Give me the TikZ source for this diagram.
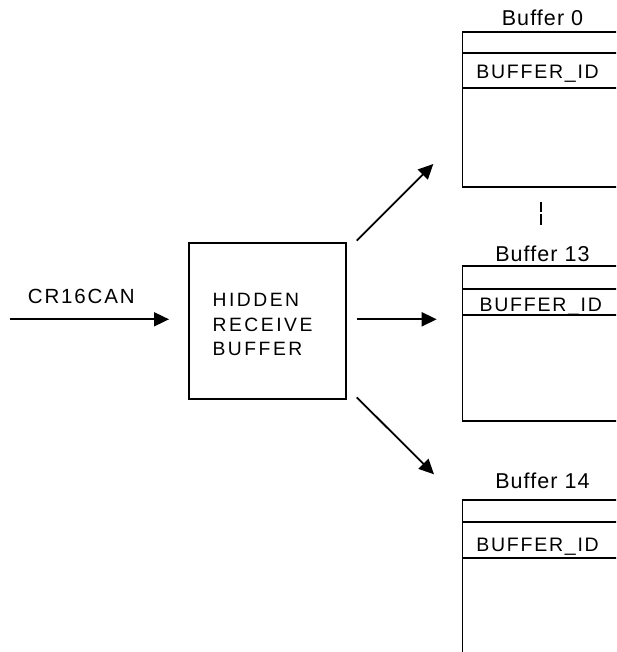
\documentclass[tikz,border=0pt]{standalone}
\usepackage{fontspec}
\setmainfont{Liberation Sans}
\newfontfamily\lblfont[LetterSpace=9]{Liberation Sans}
\newfontfamily\boxfont[LetterSpace=13]{Liberation Sans}
\newfontfamily\ttlfont[LetterSpace=5]{Liberation Sans}
\usetikzlibrary{arrows.meta}
\begin{document}
\begin{tikzpicture}[x=1pt,y=-1pt,
  line width=1.8pt,
  lbl/.style={inner sep=0pt,font=\fontsize{19.5}{24}\lblfont},
  inlbl/.style={inner sep=0pt,font=\fontsize{20.5}{24}\lblfont},
  boxtxt/.style={inner sep=0pt,font=\fontsize{19.3}{24.5}\boxfont},
  ttl/.style={inner sep=0pt,anchor=base,font=\fontsize{21.5}{24}\ttlfont},
  arr/.style={-{Triangle[length=15pt,width=14pt]}},
  hbox/.style={draw,minimum width=156.7pt,minimum height=156pt,inner sep=0pt,anchor=north west}]
\useasboundingbox (0,0) rectangle (616,652);
\clip (0,0) rectangle (616,652);

% hidden receive buffer
\node[hbox] (hrb) at (188.3,241.7) {};
\node[boxtxt,anchor=base west,align=left] (hrbtext) at (211.7,355.7) {HIDDEN\\RECEIVE\\BUFFER};

% input
\node[inlbl,anchor=base west] (can) at (27,303) {CR16CAN};
\coordinate (in) at (10,319.3);
\coordinate (inend) at (169,319.3);
\draw[arr] (in) -- (inend);

% buffer 0
\node[ttl] (t0) at (542.5,25.7) {Buffer 0};
\draw (630,32.3) -- (462.5,32.3) -- (462.5,187.3) -- (630,187.3);
\draw (462.5,53.3) -- (630,53.3);
\draw (462.5,87.7) -- (630,87.7);
\node[lbl,anchor=base west] (id0) at (475.5,78.5) {BUFFER\_ID};

% dots
\coordinate (d1) at (540.7,201.7);
\coordinate (d2) at (540.7,212.3);
\coordinate (d3) at (540.7,214.3);
\coordinate (d4) at (540.7,225);
\draw[line width=1.6pt] (d1) -- (d2) (d3) -- (d4);

% buffer 13
\node[ttl] (t13) at (542.5,261) {Buffer 13};
\draw (630,266) -- (462.5,266) -- (462.5,421.3) -- (630,421.3);
\draw (462.5,289) -- (630,289);
\draw (462.5,315) -- (630,315);
\node[lbl,anchor=base west] (id13) at (478.7,311.7) {BUFFER\_ID};

% buffer 14
\node[ttl] (t14) at (542.5,488.3) {Buffer 14};
\draw (630,500) -- (462.5,500) -- (462.5,660);
\draw (462.5,521.7) -- (630,521.7);
\draw (462.5,557.7) -- (630,557.7);
\node[lbl,anchor=base west] (id14) at (475.5,551.3) {BUFFER\_ID};

% outgoing arrows
\coordinate (o1) at (356.7,240.7);
\coordinate (e1) at (433.3,164);
\coordinate (o2) at (356.7,319.3);
\coordinate (e2) at (436.7,319.3);
\coordinate (o3) at (356.7,397.3);
\coordinate (e3) at (434,474.3);
\draw[arr] (o1) -- (e1);
\draw[arr] (o2) -- (e2);
\draw[arr] (o3) -- (e3);
\end{tikzpicture}
\end{document}
